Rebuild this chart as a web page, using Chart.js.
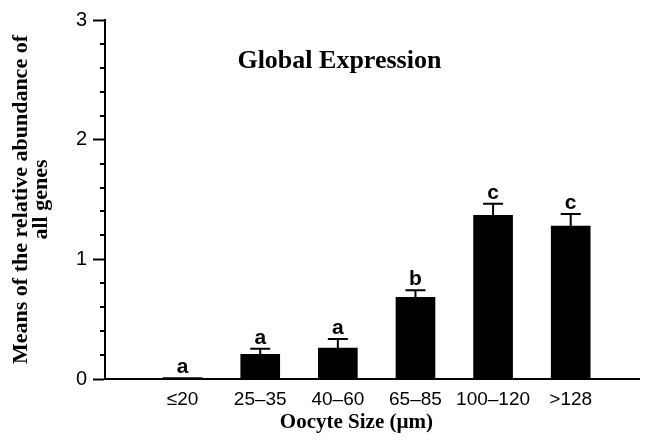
<!DOCTYPE html>
<html>
<head>
<meta charset="utf-8">
<script src="https://cdn.jsdelivr.net/npm/chart.js@4/dist/chart.umd.min.js"></script>
<style>
  html, body { margin: 0; padding: 0; background: #fff; }
  #wrap { width: 648px; height: 440px; }
</style>
</head>
<body>
<div id="wrap"><canvas id="myChart" width="648" height="440"></canvas></div>
<script>
// data
let sizes = ['\u226420', '25\u201335', '40\u201360', '65\u201385', '100\u2013120', '>128'];
let means = [0.012, 0.206, 0.259, 0.683, 1.367, 1.278];
let sem = [0, 0.047, 0.075, 0.058, 0.098, 0.100];
let letters = ['a', 'a', 'a', 'b', 'c', 'c'];

let serif = '"Liberation Serif", "Times New Roman", serif';
let sans = '"Liberation Sans", Arial, sans-serif';

function isMajor(v) {
    return Math.abs(v - Math.round(v)) < 1e-6;
}

// error bars, significance letters, minor ticks and the text labels
let extras = {
    id: 'extras',
    afterDatasetsDraw(chart) {
        let ctx = chart.ctx;
        let x = chart.scales.x;
        let y = chart.scales.y;
        ctx.save();
        ctx.strokeStyle = '#000';
        ctx.fillStyle = '#000';
        ctx.lineWidth = 2;
        means.forEach(function (m, i) {
            let px = x.getPixelForValue(i + 1);
            let top = y.getPixelForValue(m + sem[i]);
            if (sem[i] > 0) {
                ctx.beginPath();
                ctx.moveTo(px, y.getPixelForValue(m));
                ctx.lineTo(px, top);
                ctx.moveTo(px - 10, top);
                ctx.lineTo(px + 10, top);
                ctx.stroke();
            }
            ctx.font = 'bold 21px ' + sans;
            ctx.textAlign = 'center';
            ctx.textBaseline = 'alphabetic';
            ctx.fillText(letters[i], px, top - 5);
        });
        // minor ticks
        let ax = chart.chartArea.left;
        y.ticks.forEach(function (t) {
            if (!isMajor(t.value)) {
                let py = Math.round(y.getPixelForValue(t.value));
                ctx.beginPath();
                ctx.moveTo(ax - 5, py);
                ctx.lineTo(ax, py);
                ctx.stroke();
            }
        });
        // title inside plot
        ctx.font = 'bold 26px ' + serif;
        ctx.textAlign = 'center';
        ctx.fillText('Global Expression', x.getPixelForValue(3.02), y.getPixelForValue(2.6));
        // x axis title
        ctx.font = 'bold 21px ' + serif;
        ctx.fillText('Oocyte Size (\u00b5m)', x.getPixelForValue(3.24), chart.chartArea.bottom + 49);
        // y axis title
        let cy = (chart.chartArea.top + chart.chartArea.bottom) / 2;
        ctx.translate(ax, cy);
        ctx.rotate(-Math.PI / 2);
        ctx.font = 'bold 22px ' + serif;
        ctx.fillText('Means of the relative abundance of', 0, -78);
        ctx.fillText('all genes', 0, -58);
        ctx.restore();
    }
};

let ctx = document.getElementById('myChart').getContext('2d');
let chart = new Chart(ctx, {
    type: 'bar',
    data: {
        datasets: [{
            label: 'Global expression',
            data: means.map(function (m, i) { return { x: i + 1, y: m }; }),
            backgroundColor: '#000',
            borderColor: '#000',
            borderWidth: 0,
            barThickness: 39
        }]
    },
    plugins: [extras],
    options: {
        responsive: false,
        animation: false,
        events: [],
        layout: { padding: { left: 8, right: 8, top: 20, bottom: 0 } },
        plugins: {
            legend: { display: false },
            tooltip: { enabled: false },
            title: { display: false }
        },
        scales: {
            x: {
                type: 'linear',
                offset: false,
                min: 0,
                max: 6.88,
                afterFit: function (s) { s.height = 61; },
                grid: { display: true, offset: false, drawOnChartArea: false, drawTicks: false },
                border: { display: true, color: '#000', width: 2 },
                ticks: {
                    stepSize: 1,
                    autoSkip: false,
                    maxRotation: 0,
                    padding: 9,
                    color: '#000',
                    font: { family: sans, size: 19 },
                    callback: function (v) {
                        return sizes[v - 1] || '';
                    }
                }
            },
            y: {
                min: 0,
                max: 3,
                afterFit: function (s) { s.width = 97; },
                grid: {
                    drawOnChartArea: false,
                    tickLength: 12,
                    tickWidth: 2,
                    tickColor: function (c) {
                        return c.tick && isMajor(c.tick.value) ? '#000' : 'rgba(0,0,0,0)';
                    }
                },
                border: { display: true, color: '#000', width: 2 },
                ticks: {
                    stepSize: 0.2,
                    autoSkip: false,
                    padding: 6,
                    color: '#000',
                    font: { family: sans, size: 20 },
                    callback: function (v) {
                        return isMajor(v) ? String(Math.round(v)) : '';
                    }
                }
            }
        }
    }
});
</script>
</body>
</html>
